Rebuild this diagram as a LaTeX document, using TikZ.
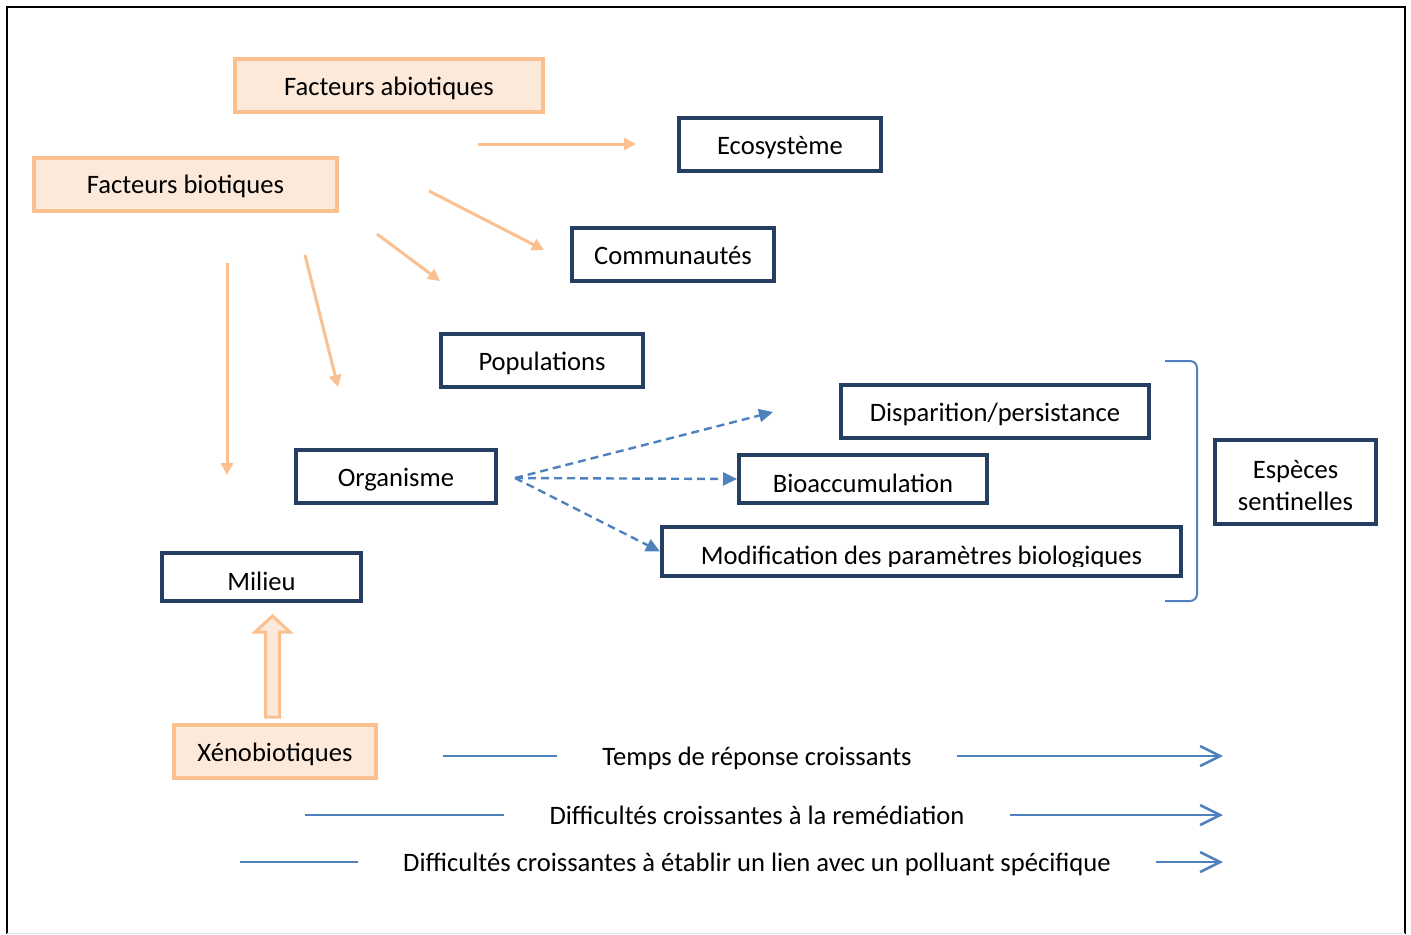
\documentclass[tikz,border=0pt]{standalone}
\usepackage{fontspec}
\setmainfont{Carlito}
\usetikzlibrary{arrows.meta,positioning}

\definecolor{boxnavy}{HTML}{253F63}
\definecolor{peachline}{HTML}{FAC090}
\definecolor{peachfill}{HTML}{FDE9D9}
\definecolor{arrowblue}{HTML}{4F81BD}

\tikzset{
  labelfont/.style={font=\fontsize{13.3}{15.9}\selectfont,text height=12pt,text depth=2.5pt},
  darkbox/.style={draw=boxnavy,line width=2pt,minimum height=26.5pt,inner sep=0pt,labelfont},
  peachbox/.style={draw=peachline,fill=peachfill,line width=2pt,minimum height=26.5pt,inner sep=0pt,labelfont},
  lowtext/.style={text height=15.5pt,text depth=2.5pt},
  orangearrow/.style={draw=peachline,line width=1.5pt,-{Triangle[length=6pt,width=6pt]}},
  dasharrow/.style={draw=arrowblue,line width=1.2pt,dash pattern=on 4pt off 2.5pt,-{Triangle[length=7pt,width=6.5pt]}},
  scalearrow/.style={draw=arrowblue,line width=1.3pt,-{Straight Barb[length=10pt,width=10pt]}},
  scaleline/.style={draw=arrowblue,line width=1.3pt},
  scaletext/.style={labelfont,inner xsep=22.5pt,inner ysep=0pt},
}

\begin{document}
\begin{tikzpicture}[x=0.5pt,y=-0.5pt]
    \useasboundingbox (0,0) rectangle (1411,934);

    % frame
    \draw[line width=1.25pt] (7,934) -- (7,7) -- (1405,7) -- (1405,934);
    \draw[black!10,line width=0.5pt] (7,933) -- (1405,933);

    % factors
    \node[peachbox,minimum width=154pt] (abio) at (389,85.5) {Facteurs abiotiques};
    \node[peachbox,minimum width=151.5pt] (bio) at (185.5,184) {Facteurs biotiques};
    \node[peachbox,minimum width=101pt] (xeno) at (275,751.5) {Xénobiotiques};

    % levels
    \node[darkbox,minimum width=101pt] (eco) at (780,144.5) {Ecosystème};
    \node[darkbox,minimum width=101pt] (comm) at (673,254.5) {Communautés};
    \node[darkbox,minimum width=101pt] (pop) at (542,360.5) {Populations};
    \node[darkbox,minimum width=100pt] (org) at (396,476.5) {Organisme};
    \node[darkbox,minimum width=99.5pt,minimum height=24pt,lowtext] (milieu) at (261.5,577) {Milieu};

    % effects
    \node[darkbox,minimum width=154pt] (disp) at (995,411.5) {Disparition/persistance};
    \node[darkbox,minimum width=124pt,minimum height=24pt,lowtext] (bioacc) at (863,479) {Bioaccumulation};
    \node[darkbox,minimum width=259.5pt,minimum height=24.5pt] (modif) at (921.5,551.5) {};
    \coordinate (modifclip) at (1183,566);
    \begin{scope}
        \clip (modif.north west) rectangle (modifclip);
        \node[labelfont,lowtext] (modiftext) at (modif.center) {Modification des paramètres biologiques};
    \end{scope}
    \node[darkbox,minimum width=80.5pt,minimum height=42pt,align=center,
          text height=30.5pt,text depth=2.5pt] (sent) at (1295.5,482) {Espèces\\sentinelles};

    % orange arrows
    \coordinate (a1s) at (478,144);  \coordinate (a1e) at (636,144);
    \coordinate (a2s) at (429,191);  \coordinate (a2e) at (544,250);
    \coordinate (a3s) at (377,234);  \coordinate (a3e) at (440,281);
    \coordinate (a4s) at (305,255);  \coordinate (a4e) at (338,387);
    \coordinate (a5s) at (227,263);  \coordinate (a5e) at (227,475);
    \draw[orangearrow] (a1s) -- (a1e);
    \draw[orangearrow] (a2s) -- (a2e);
    \draw[orangearrow] (a3s) -- (a3e);
    \draw[orangearrow] (a4s) -- (a4e);
    \draw[orangearrow] (a5s) -- (a5e);

    % block arrow xenobiotiques -> milieu
    \draw[draw=peachline,fill=peachfill,line width=1.5pt]
        (265.5,717) -- (265.5,632) -- (255,632) -- (272.5,616)
        -- (290,632) -- (279.5,632) -- (279.5,717) -- cycle;

    % dashed arrows from organisme
    \coordinate (orgout) at (515,478);
    \coordinate (dispin) at (773,412);
    \draw[dasharrow] (orgout) -- (dispin);
    \draw[dasharrow] (orgout) -- (bioacc.west);
    \draw[dasharrow] (orgout) -- (modif.west);

    % bracket
    \draw[arrowblue,line width=1pt] (1165,361) -- (1190,361) to[out=0,in=90] (1197,368)
        -- (1197,594) to[out=-90,in=0] (1190,601) -- (1165,601);

    % scales
    \node[scaletext] (temps) at (757,756) {Temps de réponse croissants};
    \node[scaletext] (remed) at (757,815) {Difficultés croissantes à la remédiation};
    \node[scaletext] (lien) at (757,862) {Difficultés croissantes à établir un lien avec un polluant spécifique};
    \coordinate (t1) at (443,756);  \coordinate (t2) at (1223,756);
    \coordinate (r1) at (305,815);  \coordinate (r2) at (1223,815);
    \coordinate (l1) at (240,862);  \coordinate (l2) at (1223,862);
    \draw[scaleline] (t1) -- (temps.west);
    \draw[scalearrow] (temps.east) -- (t2);
    \draw[scaleline] (r1) -- (remed.west);
    \draw[scalearrow] (remed.east) -- (r2);
    \draw[scaleline] (l1) -- (lien.west);
    \draw[scalearrow] (lien.east) -- (l2);
\end{tikzpicture}
\end{document}
